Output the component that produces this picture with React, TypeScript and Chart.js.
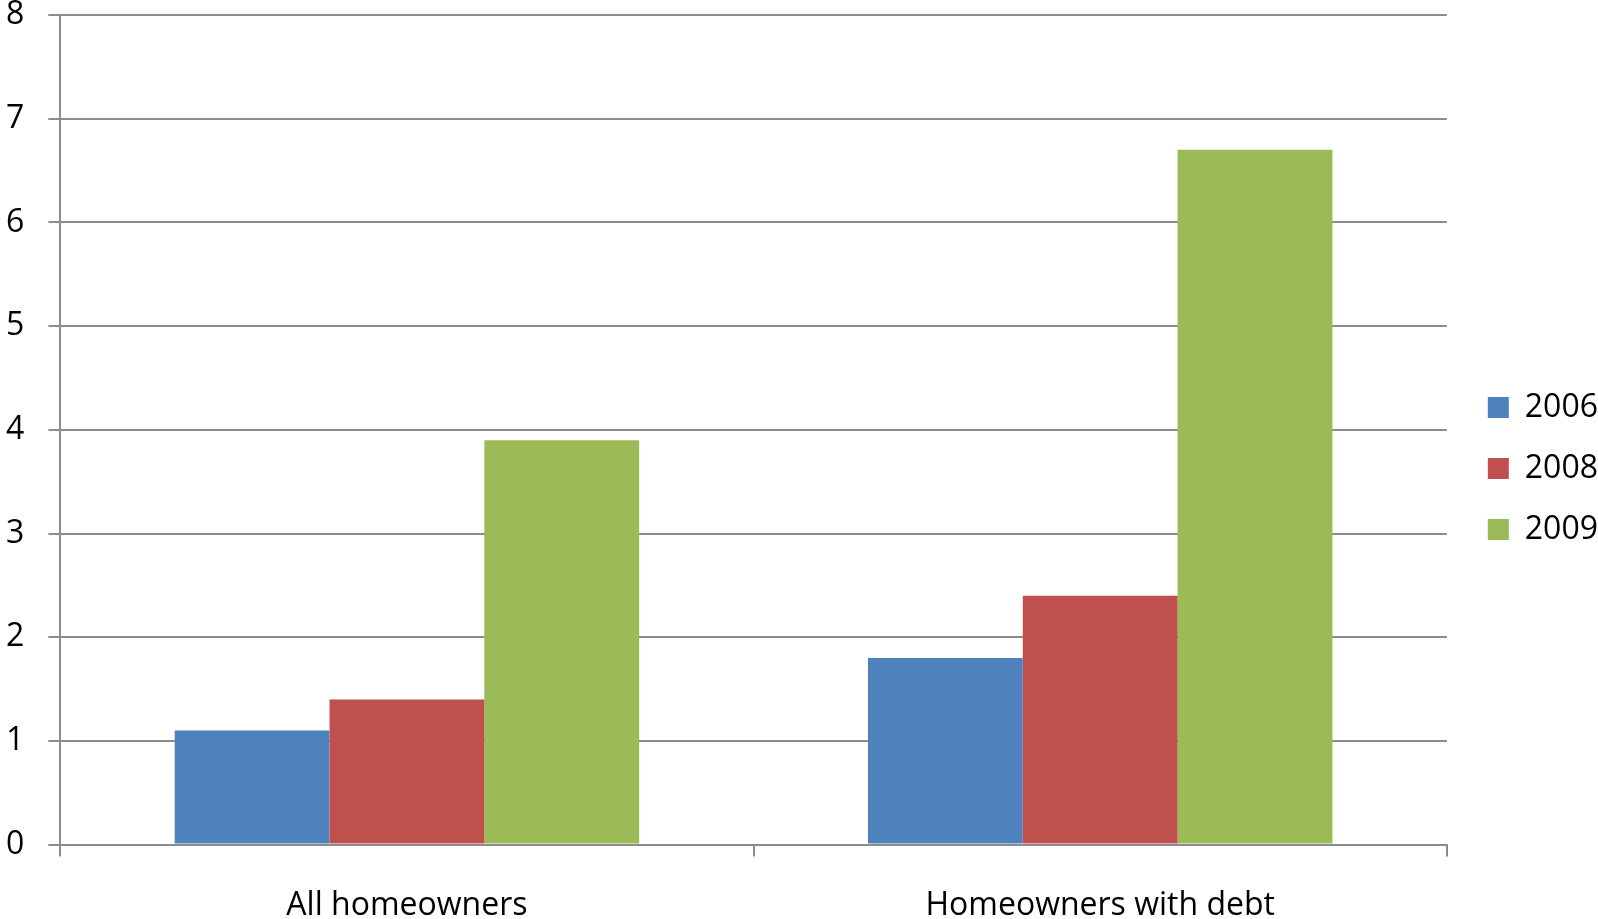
import React, { useEffect, useRef } from "react";
import { Chart, registerables } from "chart.js";

Chart.register(...registerables);

// Categories and yearly series
const categories = ["All homeowners", "Homeowners with debt"];
const seriesLabels = ["2006", "2008", "2009"];
const values2006 = [1.1, 1.8];
const values2008 = [1.4, 2.4];
const values2009 = [3.9, 6.7];
const seriesColors = ["#4F81BD", "#C0504D", "#9BBB59"];
const yMin = 0;
const yMax = 8;
const yStep = 1;

const FONT = "'Open Sans', 'Liberation Sans', sans-serif";
const GRID = "#8c8c8c";

// Nudges the legend block a little to the right and down after layout.
const legendNudge = {
  id: "legendNudge",
  afterLayout(chart: any) {
    const lg = chart.legend;
    if (!lg) return;
    const dx = 12;
    const dy = 3;
    lg.left += dx;
    lg.right += dx;
    lg.top += dy;
    lg.bottom += dy;
  },
};

export default function App() {
  const canvasRef = useRef<HTMLCanvasElement | null>(null);

  useEffect(() => {
    document.body.style.margin = "0";
    const canvas = canvasRef.current;
    if (!canvas) return;
    const chart = new Chart(canvas, {
      type: "bar",
      data: {
        labels: categories,
        datasets: [values2006, values2008, values2009].map((vals, i) => ({
          label: seriesLabels[i],
          data: vals,
          backgroundColor: seriesColors[i],
          borderWidth: 0,
          categoryPercentage: 0.67,
          barPercentage: 1.0,
        })),
      },
      options: {
        responsive: false,
        animation: false,
        // tick padding is reserved on both sides of the labels; pull the outer half back
        layout: { padding: { left: -18, right: 2, top: -24, bottom: -36 } },
        plugins: {
          tooltip: { enabled: false },
          legend: {
            position: "right",
            labels: {
              boxWidth: 21,
              boxHeight: 21,
              padding: 29,
              color: "#000",
              font: { family: FONT, size: 32 },
            },
          },
        },
        scales: {
          x: {
            grid: {
              display: true,
              drawOnChartArea: false,
              drawTicks: true,
              tickLength: 12,
              color: GRID,
              lineWidth: 2,
            },
            border: { display: true, color: GRID, width: 2 },
            ticks: {
              color: "#000",
              padding: 30,
              font: { family: FONT, size: 32 },
              maxRotation: 0,
            },
          },
          y: {
            min: yMin,
            max: yMax,
            grid: {
              color: GRID,
              lineWidth: 2,
              drawTicks: true,
              tickLength: 12,
            },
            border: { display: true, color: GRID, width: 2 },
            ticks: {
              stepSize: yStep,
              color: "#000",
              padding: 24,
              font: { family: FONT, size: 32, lineHeight: 0.94 },
            },
            // top label only needs half its height above the plot
            afterFit(scale: any) {
              scale.paddingTop = 15;
            },
          },
        },
      },
      plugins: [legendNudge],
    });
    return () => chart.destroy();
  }, []);

  return (
    <div style={{ position: "absolute", left: 0, top: 0, width: 1598, height: 919, background: "#fff" }}>
      <canvas ref={canvasRef} width={1598} height={919} />
    </div>
  );
}
